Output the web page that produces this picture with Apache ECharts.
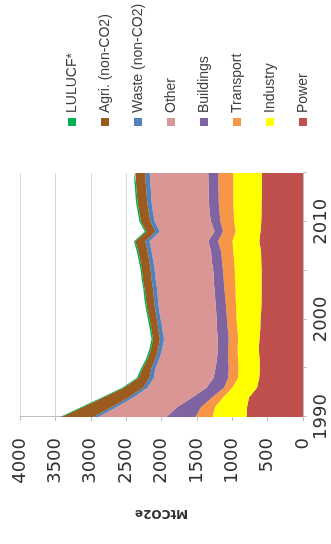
<!DOCTYPE html>
<html>
<head>
<meta charset="utf-8">
<script src="https://cdn.jsdelivr.net/npm/echarts@6/dist/echarts.min.js"></script>
<style>
  html, body { margin: 0; padding: 0; background: #ffffff; overflow: hidden; }
  #wrap { position: absolute; left: 0; top: 0; width: 331px; height: 544px; overflow: hidden; }
  #chart { position: absolute; left: 0; top: 0; width: 544px; height: 331px;
           transform-origin: 0 0; transform: translateY(544px) rotate(-90deg); }
</style>
</head>
<body>
<div id="wrap"><div id="chart"></div></div>
<script>
const years = ['1990','1991','1992','1993','1994','1995','1996','1997','1998','1999',
               '2000','2001','2002','2003','2004','2005','2006','2007','2008','2009',
               '2010','2011','2012','2013','2014','2015'];
const power     = [800,790,765,650,620,610,615,625,615,605,600,590,585,585,585,585,590,595,620,600,590,585,585,580,580,580];
const industry  = [478,455,365,350,300,300,305,300,300,325,340,355,365,370,375,380,385,390,380,350,385,395,400,405,405,405];
const transport = [240,195,155,115,138,140,140,135,135,135,135,140,145,155,160,165,170,175,200,180,190,200,205,210,210,215];
const buildings = [412,340,280,250,207,185,155,140,155,150,145,145,145,140,140,140,145,140,140,120,135,140,140,140,140,140];
const other     = [965,860,835,835,845,850,815,790,760,775,790,805,810,810,820,825,825,840,830,775,795,800,810,815,825,825];
const waste     = [70,68,65,62,60,58,56,55,55,55,55,55,56,56,57,57,58,58,59,59,60,60,60,61,61,62];
const agri      = [448,410,359,272,160,122,109,105,100,100,105,110,114,119,123,123,127,132,141,131,135,135,140,139,141,143];
const lulucf    = [22,22,21,21,20,20,20,20,20,20,20,20,20,20,20,20,20,20,20,20,20,20,20,20,20,20];
const seriesNames = ['Power','Industry','Transport','Buildings','Other','Waste (non-CO2)','Agri. (non-CO2)','LULUCF*'];
const seriesData  = [power, industry, transport, buildings, other, waste, agri, lulucf];
const seriesColors = ['#c0504d','#ffff00','#f79646','#8064a2','#d99694','#4f81bd','#9b5a1e','#00b050'];
const legendOrder = ['LULUCF*','Agri. (non-CO2)','Waste (non-CO2)','Other','Buildings','Transport','Industry','Power'];
const valueTicks = { min: 0, max: 4000, interval: 500 };
const axisName = 'MtCO2e';

const chart = echarts.init(document.getElementById('chart'), null, { renderer: 'canvas', width: 544, height: 331 });
chart.setOption({
  animation: false,
  backgroundColor: '#ffffff',
  grid: { left: 127, right: 173, top: 20, bottom: 28, containLabel: false },
  legend: {
    orient: 'vertical', left: 413, top: 59,
    data: legendOrder, icon: 'rect', itemWidth: 8, itemHeight: 8, itemGap: 17,
    textStyle: { fontFamily: 'Liberation Sans', fontSize: 14, color: '#404040', lineHeight: 16 }
  },
  xAxis: {
    type: 'category', data: years, boundaryGap: false,
    axisLine: { show: true, lineStyle: { color: '#bfbfbf', width: 1 } },
    axisTick: { show: true, length: 4, interval: function (i) { return i % 5 === 0; }, lineStyle: { color: '#bfbfbf' } },
    axisLabel: { interval: function (i) { return i % 10 === 0; }, margin: 9,
      fontFamily: 'DejaVu Sans', fontSize: 18, color: '#333333' },
    splitLine: { show: false }
  },
  yAxis: {
    type: 'value', min: valueTicks.min, max: valueTicks.max, interval: valueTicks.interval,
    name: axisName, nameLocation: 'middle', nameRotate: 90, nameGap: 90,
    nameTextStyle: { fontFamily: 'DejaVu Sans', fontSize: 12, fontWeight: 'bold', color: '#333333' },
    axisLine: { show: true, lineStyle: { color: '#bfbfbf', width: 1 } },
    axisTick: { show: true, length: 4, lineStyle: { color: '#bfbfbf' } },
    axisLabel: { margin: 21, fontFamily: 'DejaVu Sans', fontSize: 18, color: '#333333',
      formatter: function (v) { return String(v); } },
    splitLine: { show: true, lineStyle: { color: '#d9d9d9', width: 1 } }
  },
  series: seriesNames.map(function (n, i) {
    return {
      name: n, type: 'line', stack: 'total', data: seriesData[i],
      showSymbol: false, symbol: 'none', smooth: false,
      lineStyle: { width: 0 },
      itemStyle: { color: seriesColors[i] },
      areaStyle: { color: seriesColors[i], opacity: 1 }
    };
  })
});
</script>
</body>
</html>
